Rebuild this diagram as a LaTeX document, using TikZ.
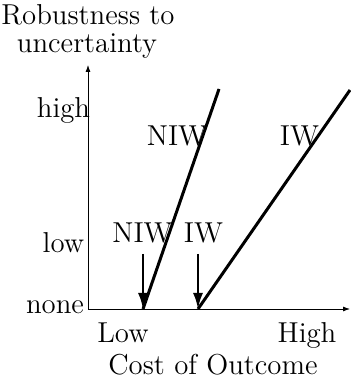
\documentclass[tikz,border=0pt]{standalone}
\usepackage{amsmath}
\usepackage{tikz}
\usetikzlibrary{arrows.meta}

\begin{document}
\begin{tikzpicture}[x=0.5pt, y=0.5pt, font=\Large,
		every node/.style={inner sep=0pt, anchor=base}]
			
			\useasboundingbox (-88,-69) rectangle (262,309);
			
			% Axes
			\coordinate (origin) at (0,0);
			\coordinate (ytop) at (0,244);
			\coordinate (xend) at (262,0);
			\draw[-{Latex[length=3.5pt,width=2.5pt]}, thin] (origin) -- (ytop);
			\draw[-{Latex[length=3.5pt,width=2.5pt]}, thin] (origin) -- (xend);
			
			% Titres des axes
			\node (ytitle) at (0,284) {Robustness to};
			\node (ytitleb) at (-1,256) {uncertainty};
			\node (xlab) at (125,-65) {Cost of Outcome};
			
			% Graduations
			\node (yhigh) at (-24.5,191) {high};
			\node (ylow) at (-24.5,56) {low};
			\node (ynone) at (-33,-5) {none};
			\node (xlow) at (35,-33) {Low};
			\node (xhigh) at (219,-33) {High};
			
			% Droites NIW et IW
			\coordinate (nfoot) at (55,0);
			\coordinate (ntop) at (131,220);
			\coordinate (ifoot) at (110,0);
			\coordinate (itop) at (262,219);
			\draw[line width=1.5pt] (nfoot) -- (ntop);
			\draw[line width=1.5pt] (ifoot) -- (itop);
			
			% Flèches
			\coordinate (nstart) at (55,55);
			\coordinate (istart) at (110,55);
			\draw[-{Latex[length=8pt,width=5pt]}, line width=1.2pt] (nstart) -- (nfoot);
			\draw[-{Latex[length=8pt,width=5pt]}, line width=1.2pt] (istart) -- (ifoot);
			
			% Étiquettes
			\node (nlow) at (54.5,66) {NIW};
			\node (ilow) at (115.5,66) {IW};
			\node (nhigh) at (89,163) {NIW};
			\node (ihigh) at (211.5,163) {IW};
			
		\end{tikzpicture}
\end{document}
